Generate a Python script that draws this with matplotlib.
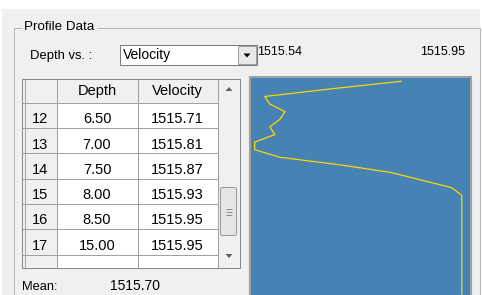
import numpy as np
import matplotlib.pyplot as plt
from matplotlib.patches import Rectangle, Polygon, FancyBboxPatch

# profile data (rows 1..17)
row_ids = list(range(1, 18))
depth = [1.0, 1.5, 2.0, 2.5, 3.0, 3.5, 4.0, 4.5, 5.0, 5.5, 6.0, 6.5, 7.0, 7.5, 8.0, 8.5, 15.0]
velocity = [1515.83, 1515.69, 1515.56, 1515.57, 1515.60, 1515.59, 1515.57, 1515.58,
            1515.54, 1515.54, 1515.59, 1515.71, 1515.81, 1515.87, 1515.93, 1515.95, 1515.95]
columns = ['Depth', 'Velocity']
first_row = 12          # first row shown in the grid
n_visible = 6
selected = 'Velocity'

W, H = 482, 295
FONT = 'Liberation Sans'
GRID = '#a0a0a0'

fig = plt.figure(figsize=(W / 100, H / 100), dpi=100)
fig.patch.set_facecolor('white')

# background axes in pixel coordinates
bg = fig.add_axes([0, 0, 1, 1])
bg.set_xlim(0, W)
bg.set_ylim(H, 0)
bg.axis('off')

def px(lw=1):
    return lw * 0.72

def txt(x, y, s, size=9.5, ha='left', va='center', **kw):
    bg.text(x, y, s, fontsize=size, ha=ha, va=va, family=FONT, color='#000000', **kw)

def line(xs, ys, c=GRID, lw=1):
    bg.plot(xs, ys, color=c, lw=px(lw), solid_capstyle='butt')

# window panel
bg.add_patch(Rectangle((2, 9), 478, H - 9, facecolor='#f0f0f0', edgecolor='none'))

# group box
line([13.5, 22], [27.5, 27.5], c='#b4b4b4')
line([97, 479.5], [27.5, 27.5], c='#b4b4b4')
line([13.5, 13.5], [27.5, H], c='#b4b4b4')
line([479.5, 479.5], [27.5, H], c='#b4b4b4')
txt(24, 27.5, 'Profile Data', size=9.6)

# selector row
txt(30, 56, 'Depth vs. :', size=9.4)
bg.add_patch(Rectangle((119.5, 44.5), 137, 20.5, facecolor='white', edgecolor='#7a7a7a', lw=px()))
bg.add_patch(Rectangle((238, 45.5), 18, 18.5, facecolor='#e8e8e8', edgecolor='#a0a0a0', lw=px()))
bg.add_patch(Polygon([[243.5, 53.5], [250.5, 53.5], [247, 57.5]], closed=True, facecolor='black', edgecolor='none'))
txt(123, 55, selected, size=10)

# min / max velocity labels
vmin, vmax = min(velocity), max(velocity)
txt(257.5, 52, '%.2f' % vmin, size=9)
txt(465.5, 52, '%.2f' % vmax, size=9, ha='right')

# ---- grid / table ----
tx0, tx1 = 22, 240
ty0, ty1 = 78.5, 267.5
col_x = [22, 56.5, 137.5, 217.5]
row_h = 25.3
head_h = 24.3

bg.add_patch(Rectangle((tx0, ty0), tx1 - tx0, ty1 - ty0, facecolor='white', edgecolor='none'))
# header and row header backgrounds
bg.add_patch(Rectangle((col_x[0], ty0), col_x[3] - col_x[0], head_h, facecolor='#f0f0f0', edgecolor='none'))
bg.add_patch(Rectangle((col_x[0], ty0), col_x[1] - col_x[0], ty1 - ty0, facecolor='#f0f0f0', edgecolor='none'))

# horizontal lines
y = ty0 + head_h
line([col_x[0], col_x[3]], [y, y])
for i in range(n_visible):
    y = ty0 + head_h + (i + 1) * row_h
    line([col_x[0], col_x[3]], [y, y])
# vertical lines
for x in col_x[1:]:
    line([x, x], [ty0, ty1])

# text
txt((col_x[1] + col_x[2]) / 2, ty0 + head_h / 2 + 0.5, columns[0], size=10.5, ha='center')
txt((col_x[2] + col_x[3]) / 2, ty0 + head_h / 2 + 0.5, columns[1], size=10.5, ha='center')
for i in range(n_visible):
    k = first_row - 1 + i
    yb = ty0 + head_h + i * row_h + 20.5
    txt((col_x[0] + col_x[1]) / 2 + 1, yb, str(row_ids[k]), size=10.5, ha='center', va='baseline')
    txt((col_x[1] + col_x[2]) / 2, yb, '%.2f' % depth[k], size=10.5, ha='center', va='baseline')
    txt((col_x[2] + col_x[3]) / 2, yb, '%.2f' % velocity[k], size=10.5, ha='center', va='baseline')

# scrollbar
bg.add_patch(Rectangle((217.5, ty0), tx1 - 217.5, ty1 - ty0, facecolor='#f0f0f0', edgecolor='none'))
bg.add_patch(Polygon([[225.5, 91], [232.5, 91], [229, 87]], closed=True, facecolor='#606060', edgecolor='none'))
bg.add_patch(Polygon([[225.5, 254], [232.5, 254], [229, 258]], closed=True, facecolor='#606060', edgecolor='none'))
bg.add_patch(FancyBboxPatch((220.5, 187.5), 16, 48, boxstyle='round,pad=0,rounding_size=2',
                            facecolor='#e6e6e6', edgecolor='#9a9a9a', lw=px()))
for gy in (208.5, 211.5, 214.5):
    line([226, 232], [gy, gy], c='#8a8a8a')

# outer table border
bg.add_patch(Rectangle((tx0, ty0), tx1 - tx0, ty1 - ty0, facecolor='none', edgecolor='#828790', lw=px()))
line([24.5, 24.5], [ty0, ty1], c='#a8a8a8')
line([tx0, tx1], [ty0 + 0.5, ty0 + 0.5], c='#828790')

# mean
txt(22, 286.5, 'Mean:', size=9.3)
txt(110, 286.5, '%.2f' % np.mean(velocity), size=10)

# ---- profile plot ----
left, right = 250, 471
top = 77
ax = fig.add_axes([left / W, 0, (right - left) / W, (H - top) / H])
ax.set_facecolor('#4682b4')
ax.plot(velocity, depth, color='#ffd700', lw=0.9)
ax.set_xlim(1515.5307, 1515.9683)
ax.set_ylim(15.06, 0.717)
ax.set_xticks([])
ax.set_yticks([])
for side in ('left', 'right', 'top'):
    ax.spines[side].set_color('#a0a0a0')
    ax.spines[side].set_linewidth(1.5)
ax.spines['bottom'].set_visible(False)

fig.savefig('out.png', dpi=100)
